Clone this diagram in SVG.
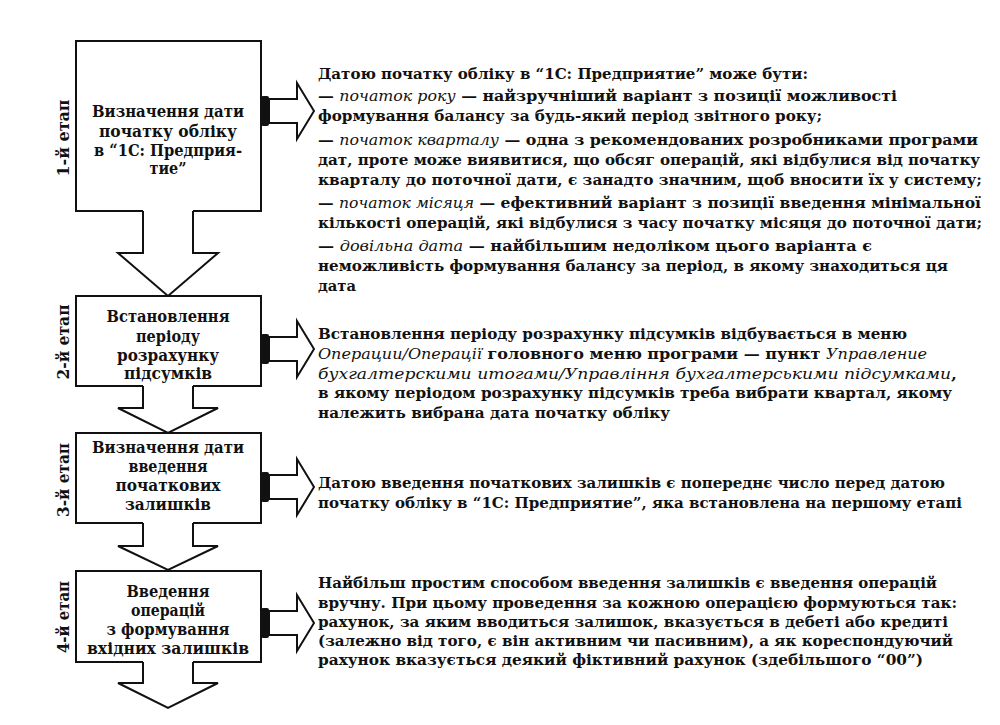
<svg xmlns="http://www.w3.org/2000/svg" width="1000" height="725" viewBox="0 0 1000 725">
<style>
.box{fill:#fff;stroke:#111;stroke-width:2}
.af{fill:#fff;stroke:none}
.ao{fill:none;stroke:#111;stroke-width:2;stroke-linejoin:miter}
.plug{fill:#111}
.bt{font-family:"DejaVu Serif","Liberation Serif",serif;font-weight:bold;font-size:16px;fill:#111;text-anchor:middle}
.st{font-family:"DejaVu Serif","Liberation Serif",serif;font-weight:bold;font-size:16px;fill:#111;text-anchor:middle}
.tx{font-family:"DejaVu Serif","Liberation Serif",serif;font-weight:bold;font-size:15px;fill:#111}
.it{font-style:italic;font-weight:normal}
</style>
<rect width="1000" height="725" fill="#fff"/>

<g id="stage1">
<rect class="box" x="76" y="41" width="185" height="170"/>
<text class="st" transform="translate(69,138) rotate(-90)" textLength="77" lengthAdjust="spacingAndGlyphs">1-й етап</text>
<text class="bt" x="168" y="117" textLength="152" lengthAdjust="spacingAndGlyphs">Визначення дати</text>
<text class="bt" x="168" y="137" textLength="138" lengthAdjust="spacingAndGlyphs">початку обліку</text>
<text class="bt" x="168" y="156" textLength="148" lengthAdjust="spacingAndGlyphs">в “1С: Предприя-</text>
<text class="bt" x="168" y="174" textLength="37" lengthAdjust="spacingAndGlyphs">тие”</text>
</g>

<g id="stage2">
<rect class="box" x="76" y="296" width="185" height="90"/>
<text class="st" transform="translate(69,342) rotate(-90)" textLength="75" lengthAdjust="spacingAndGlyphs">2-й етап</text>
<text class="bt" x="168" y="322" textLength="123" lengthAdjust="spacingAndGlyphs">Встановлення</text>
<text class="bt" x="168" y="342" textLength="64" lengthAdjust="spacingAndGlyphs">періоду</text>
<text class="bt" x="168" y="361" textLength="102" lengthAdjust="spacingAndGlyphs">розрахунку</text>
<text class="bt" x="168" y="379" textLength="88" lengthAdjust="spacingAndGlyphs">підсумків</text>
</g>

<g id="stage3">
<rect class="box" x="76" y="433" width="185" height="90"/>
<text class="st" transform="translate(69,480) rotate(-90)" textLength="74" lengthAdjust="spacingAndGlyphs">3-й етап</text>
<text class="bt" x="168" y="453" textLength="152" lengthAdjust="spacingAndGlyphs">Визначення дати</text>
<text class="bt" x="168" y="472" textLength="79" lengthAdjust="spacingAndGlyphs">введення</text>
<text class="bt" x="168" y="491" textLength="105" lengthAdjust="spacingAndGlyphs">початкових</text>
<text class="bt" x="168" y="510" textLength="86" lengthAdjust="spacingAndGlyphs">залишків</text>
</g>

<g id="stage4">
<rect class="box" x="76" y="571" width="185" height="91"/>
<text class="st" transform="translate(69,617) rotate(-90)" textLength="72" lengthAdjust="spacingAndGlyphs">4-й етап</text>
<text class="bt" x="168" y="597" textLength="83" lengthAdjust="spacingAndGlyphs">Введення</text>
<text class="bt" x="168" y="616" textLength="74" lengthAdjust="spacingAndGlyphs">операцій</text>
<text class="bt" x="168" y="635" textLength="123" lengthAdjust="spacingAndGlyphs">з формування</text>
<text class="bt" x="168" y="654" textLength="162" lengthAdjust="spacingAndGlyphs">вхідних залишків</text>
</g>

<g id="connectors">
<polygon class="af" points="143,209 193,209 193,253 218,253 168,296 118,253 143,253"/>
<polyline class="ao" points="143,211 143,253 118,253 168,296 218,253 193,253 193,211"/>
<polygon class="af" points="143,384 193,384 193,408 218,408 168,433 118,408 143,408"/>
<polyline class="ao" points="143,386 143,408 118,408 168,433 218,408 193,408 193,386"/>
<polygon class="af" points="143,521 193,521 193,546 218,546 168,570 118,546 143,546"/>
<polyline class="ao" points="143,523 143,546 118,546 168,570 218,546 193,546 193,523"/>
<polygon class="af" points="143,660 193,660 193,683 218,683 168,708 118,683 143,683"/>
<polyline class="ao" points="143,662 143,683 118,683 168,708 218,683 193,683 193,662"/>
<rect class="plug" x="261" y="96" width="8" height="30" rx="2"/>
<polygon class="ao" fill="#fff" points="269,99 297,99 297,83 314,111 297,139 297,123 269,123"/>
<rect class="plug" x="261" y="334" width="8" height="30" rx="2"/>
<polygon class="ao" fill="#fff" points="269,337 297,337 297,321 314,349 297,377 297,361 269,361"/>
<rect class="plug" x="261" y="472" width="8" height="30" rx="2"/>
<polygon class="ao" fill="#fff" points="269,475 297,475 297,459 314,487 297,515 297,499 269,499"/>
<rect class="plug" x="261" y="608" width="8" height="30" rx="2"/>
<polygon class="ao" fill="#fff" points="269,611 297,611 297,595 314,623 297,651 297,635 269,635"/>
</g>

<g id="desc1">
<text class="tx" x="318" y="79" textLength="490" lengthAdjust="spacingAndGlyphs">Датою початку обліку в “1С: Предприятие” може бути:</text>
<text class="tx" x="318" y="101" textLength="579" lengthAdjust="spacingAndGlyphs">— <tspan class="it">початок року</tspan> — найзручніший варіант з позиції можливості</text>
<text class="tx" x="318" y="121" textLength="504" lengthAdjust="spacingAndGlyphs">формування балансу за будь-який період звітного року;</text>
<text class="tx" x="318" y="145" textLength="660" lengthAdjust="spacingAndGlyphs">— <tspan class="it">початок кварталу</tspan> — одна з рекомендованих розробниками програми</text>
<text class="tx" x="318" y="165" textLength="662" lengthAdjust="spacingAndGlyphs">дат, проте може виявитися, що обсяг операцій, які відбулися від початку</text>
<text class="tx" x="318" y="185" textLength="664" lengthAdjust="spacingAndGlyphs">кварталу до поточної дати, є занадто значним, щоб вносити їх у систему;</text>
<text class="tx" x="318" y="208" textLength="663" lengthAdjust="spacingAndGlyphs">— <tspan class="it">початок місяця</tspan> — ефективний варіант з позиції введення мінімальної</text>
<text class="tx" x="318" y="228" textLength="664" lengthAdjust="spacingAndGlyphs">кількості операцій, які відбулися з часу початку місяця до поточної дати;</text>
<text class="tx" x="318" y="251" textLength="554" lengthAdjust="spacingAndGlyphs">— <tspan class="it">довільна дата</tspan> — найбільшим недоліком цього варіанта є</text>
<text class="tx" x="318" y="271" textLength="630" lengthAdjust="spacingAndGlyphs">неможливість формування балансу за період, в якому знаходиться ця</text>
<text class="tx" x="318" y="291" textLength="38" lengthAdjust="spacingAndGlyphs">дата</text>
</g>

<g id="desc2">
<text class="tx" x="318" y="339" textLength="589" lengthAdjust="spacingAndGlyphs">Встановлення періоду розрахунку підсумків відбувається в меню</text>
<text class="tx" x="318" y="359" textLength="609" lengthAdjust="spacingAndGlyphs"><tspan class="it">Операции/Операції</tspan> головного меню програми — пункт <tspan class="it">Управление</tspan></text>
<text class="tx" x="318" y="379" textLength="639" lengthAdjust="spacingAndGlyphs"><tspan class="it">бухгалтерскими итогами/Управління бухгалтерськими підсумками</tspan>,</text>
<text class="tx" x="318" y="398" textLength="634" lengthAdjust="spacingAndGlyphs">в якому періодом розрахунку підсумків треба вибрати квартал, якому</text>
<text class="tx" x="318" y="418" textLength="352" lengthAdjust="spacingAndGlyphs">належить вибрана дата початку обліку</text>
</g>

<g id="desc3">
<text class="tx" x="318" y="488" textLength="627" lengthAdjust="spacingAndGlyphs">Датою введення початкових залишків є попереднє число перед датою</text>
<text class="tx" x="318" y="508" textLength="644" lengthAdjust="spacingAndGlyphs">початку обліку в “1С: Предприятие”, яка встановлена на першому етапі</text>
</g>

<g id="desc4">
<text class="tx" x="318" y="588" textLength="619" lengthAdjust="spacingAndGlyphs">Найбільш простим способом введення залишків є введення операцій</text>
<text class="tx" x="318" y="608" textLength="639" lengthAdjust="spacingAndGlyphs">вручну. При цьому проведення за кожною операцією формуються так:</text>
<text class="tx" x="318" y="627" textLength="630" lengthAdjust="spacingAndGlyphs">рахунок, за яким вводиться залишок, вказується в дебеті або кредиті</text>
<text class="tx" x="318" y="646" textLength="635" lengthAdjust="spacingAndGlyphs">(залежно від того, є він активним чи пасивним), а як кореспондуючий</text>
<text class="tx" x="318" y="665" textLength="605" lengthAdjust="spacingAndGlyphs">рахунок вказується деякий фіктивний рахунок (здебільшого “00”)</text>
</g>
</svg>
